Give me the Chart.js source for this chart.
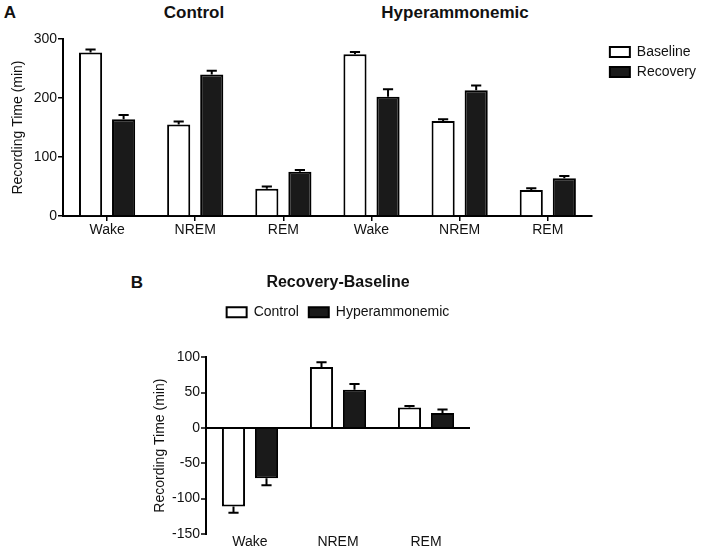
<!DOCTYPE html>
<html>
<head>
<meta charset="utf-8">
<script src="https://cdn.jsdelivr.net/npm/chart.js@4.4.0/dist/chart.umd.min.js"></script>
<style>
  html, body { margin: 0; padding: 0; background: #fff; }
  body { width: 706px; height: 552px; position: relative; overflow: hidden; font-family: 'Liberation Sans', Arial, sans-serif; }
  canvas { position: absolute; }
  .lbl { position: absolute; font-weight: bold; color: #111; transform: translate(-50%, -50%); white-space: nowrap; font-size: 17px; }
</style>
</head>
<body>
<div class="lbl" style="left:10px;top:13px">A</div>
<div class="lbl" style="left:194px;top:13px">Control</div>
<div class="lbl" style="left:455px;top:13px">Hyperammonemic</div>
<div class="lbl" style="left:137px;top:283px">B</div>
<canvas id="chartA" width="706" height="240" style="left:0;top:0"></canvas>
<canvas id="chartB" width="380" height="287" style="left:148px;top:265px"></canvas>
<script>
// panel A: time in each stage, control then hyperammonemic
const stages = ['Wake', 'NREM', 'REM', 'Wake', 'NREM', 'REM'];
const baseline = [277, 155, 46, 274, 161, 44];
const baselineSem = [5, 5, 4, 4, 3, 3];
const recovery = [164, 240, 75, 202, 213, 64];
const recoverySem = [7, 6, 3, 13, 8, 4];
const ticksA = [0, 100, 200, 300];

// panel B: recovery minus baseline
const diffStages = ['Wake', 'NREM', 'REM'];
const controlDiff = [-111, 86, 29];
const controlDiffSem = [9, 7, 2];
const hyperDiff = [-71, 54, 21];
const hyperDiffSem = [10, 8, 5];
const ticksB = [-150, -100, -50, 0, 50, 100];

Chart.defaults.font.family = "'Liberation Sans', Arial, sans-serif";
Chart.defaults.font.size = 14;
Chart.defaults.color = '#111';

// one-sided SEM bars, pointing away from zero
const errorBars = {
  id: 'errorBars',
  afterDatasetsDraw(chart) {
    const ctx = chart.ctx;
    const y = chart.scales.y;
    ctx.save();
    ctx.strokeStyle = '#000';
    ctx.lineWidth = 2;
    chart.data.datasets.forEach((ds, i) => {
      chart.getDatasetMeta(i).data.forEach((bar, j) => {
        const v = ds.data[j];
        const end = v >= 0 ? v + ds.errors[j] : v - ds.errors[j];
        const y0 = y.getPixelForValue(v);
        const y1 = y.getPixelForValue(end);
        const cap = bar.width * 0.22;
        ctx.beginPath();
        ctx.moveTo(bar.x, y0);
        ctx.lineTo(bar.x, y1);
        ctx.moveTo(bar.x - cap, y1);
        ctx.lineTo(bar.x + cap, y1);
        ctx.stroke();
      });
    });
    ctx.restore();
  }
};

const yTitle = { display: true, text: 'Recording Time (min)', font: { size: 14 }, padding: { top: 4, bottom: 4 } };
const hidden = { display: true, grid: { display: false, drawTicks: false }, border: { display: false }, ticks: { display: false } };

new Chart(document.getElementById('chartA'), {
  type: 'bar',
  data: {
    labels: stages,
    datasets: [
      { label: 'Baseline', data: baseline, errors: baselineSem, backgroundColor: '#fff', borderColor: '#000', borderWidth: 2 },
      { label: 'Recovery', data: recovery, errors: recoverySem, backgroundColor: '#1a1a1a', borderColor: '#000', borderWidth: 2 }
    ]
  },
  options: {
    responsive: false,
    animation: false,
    categoryPercentage: 0.75,
    barPercentage: 0.7,
    layout: { padding: { top: 39, left: 6, right: 0, bottom: 0 } },
    plugins: {
      legend: { position: 'right', align: 'start', labels: { boxWidth: 20, boxHeight: 10, padding: 6 } },
      tooltip: { enabled: false }
    },
    scales: {
      x: {
        grid: { drawOnChartArea: false, offset: false, tickLength: 5, color: '#000', lineWidth: 1.5 },
        border: { color: '#000', width: 2 },
        ticks: { padding: 1 },
        afterFit: s => { s.height = 24; }
      },
      y: {
        min: ticksA[0],
        max: ticksA[ticksA.length - 1],
        ticks: { stepSize: ticksA[1] - ticksA[0], padding: 1 },
        grid: { drawOnChartArea: false, tickLength: 5, color: '#000', lineWidth: 1.5 },
        border: { color: '#000', width: 2 },
        title: yTitle,
        afterFit: s => { s.width = 57; }
      },
      y2: Object.assign({ type: 'linear', position: 'right', afterFit: s => { s.width = 12; } }, hidden)
    }
  },
  plugins: [errorBars]
});

new Chart(document.getElementById('chartB'), {
  type: 'bar',
  data: {
    labels: diffStages,
    datasets: [
      { label: 'Control', data: controlDiff, errors: controlDiffSem, backgroundColor: '#fff', borderColor: '#000', borderWidth: 2 },
      { label: 'Hyperammonemic', data: hyperDiff, errors: hyperDiffSem, backgroundColor: '#1a1a1a', borderColor: '#000', borderWidth: 2 }
    ]
  },
  options: {
    responsive: false,
    animation: false,
    categoryPercentage: 0.75,
    barPercentage: 0.7,
    layout: { padding: 0 },
    plugins: {
      title: { display: true, text: 'Recovery-Baseline', font: { size: 16, weight: 'bold' }, padding: { top: 8, bottom: 3 } },
      legend: { position: 'top', labels: { boxWidth: 20, boxHeight: 10, padding: 10 } },
      tooltip: { enabled: false }
    },
    scales: {
      x: {
        grid: { display: false, drawTicks: false },
        border: { display: false },
        ticks: { padding: 0 },
        afterFit: s => { s.height = 18; }
      },
      x2: Object.assign({ type: 'category', position: 'top', afterFit: s => { s.height = 28; } }, hidden),
      y: {
        min: ticksB[0],
        max: ticksB[ticksB.length - 1],
        ticks: { stepSize: ticksB[1] - ticksB[0], padding: 1 },
        grid: {
          color: c => c.tick && c.tick.value === 0 ? '#000' : 'rgba(0,0,0,0)',
          lineWidth: 2,
          tickColor: '#000',
          tickWidth: 1.5,
          tickLength: 5
        },
        border: { color: '#000', width: 2 },
        title: yTitle,
        afterFit: s => { s.width = 58; }
      },
      y2: Object.assign({ type: 'linear', position: 'right', afterFit: s => { s.width = 58; } }, hidden)
    }
  },
  plugins: [errorBars]
});
</script>
</body>
</html>
